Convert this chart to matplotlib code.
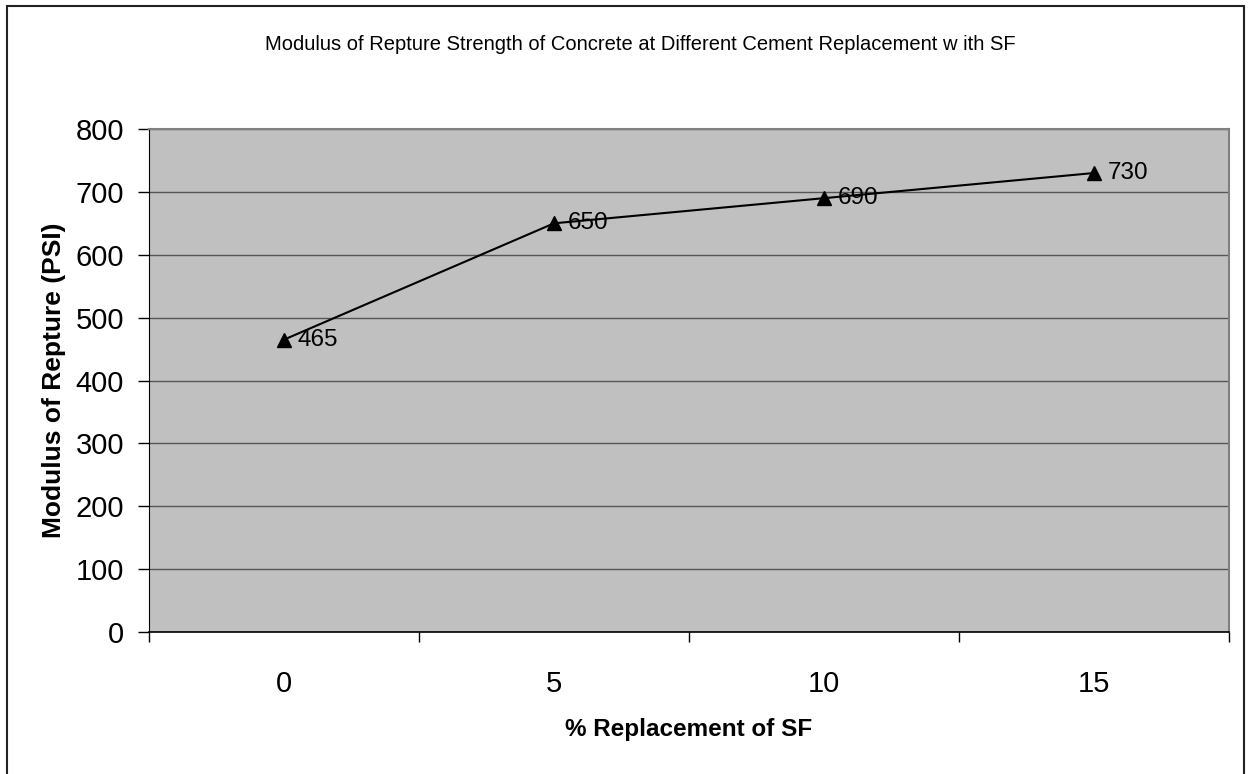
import matplotlib
matplotlib.use('Agg')
import matplotlib.pyplot as plt
from matplotlib.patches import Rectangle

plt.rcParams['font.family'] = ['Liberation Sans', 'DejaVu Sans']

# data
categories = ['0', '5', '10', '15']
rupture = [465, 650, 690, 730]
y_ticks = [0, 100, 200, 300, 400, 500, 600, 700, 800]

fig = plt.figure(figsize=(12.48, 7.74), dpi=100)
ax = fig.add_axes([149 / 1248, 1 - 632 / 774, 1080 / 1248, 503 / 774])

# outer chart border (bottom edge is cut off in the original)
fig.patches.append(Rectangle((7 / 1248, -0.05), 1237 / 1248, 1 - 6 / 774 + 0.05,
                             transform=fig.transFigure, fill=False,
                             edgecolor='#222222', linewidth=1.5))

ax.set_facecolor('#C0C0C0')
x = list(range(len(categories)))
ax.plot(x, rupture, color='black', linewidth=1.5, marker='^', markersize=10,
        markerfacecolor='black', markeredgecolor='black', zorder=3)
for xi, yi in zip(x, rupture):
    ax.annotate(str(yi), (xi, yi), xytext=(10, 0), textcoords='offset points',
                ha='left', va='center', fontsize=17.5, zorder=4)

ax.set_ylim(0, 800)
ax.set_yticks(y_ticks)
ax.yaxis.grid(True, color='#555555', linewidth=1)
ax.set_axisbelow(True)
ax.tick_params(axis='y', length=8, width=1, color='black', labelsize=21, pad=10)

ax.set_xlim(-0.5, len(categories) - 0.5)
ax.set_xticks([i - 0.5 for i in range(len(categories) + 1)])
ax.set_xticklabels([])
ax.set_xticks(x, minor=True)
ax.set_xticklabels(categories, minor=True)
ax.tick_params(axis='x', which='major', length=7, width=1, color='black')
ax.tick_params(axis='x', which='minor', length=0, labelsize=21, pad=27)

for side in ['top', 'right']:
    ax.spines[side].set_color('#808080')
    ax.spines[side].set_linewidth(1.5)
ax.spines['left'].set_color('black')
ax.spines['bottom'].set_color('black')
ax.spines['bottom'].set_linewidth(1.2)

ax.set_xlabel('% Replacement of SF', fontsize=17.5, fontweight='bold', va='center')
ax.xaxis.set_label_coords(0.5, -0.193)
ax.set_ylabel('Modulus of Repture (PSI)', fontsize=19, fontweight='bold', va='center')
ax.yaxis.set_label_coords(-0.088, 0.5)

fig.text(0.513, 0.942, 'Modulus of Repture Strength of Concrete at Different Cement Replacement w ith SF',
         ha='center', va='center', fontsize=14.5)

fig.savefig('out.png', dpi=100)
